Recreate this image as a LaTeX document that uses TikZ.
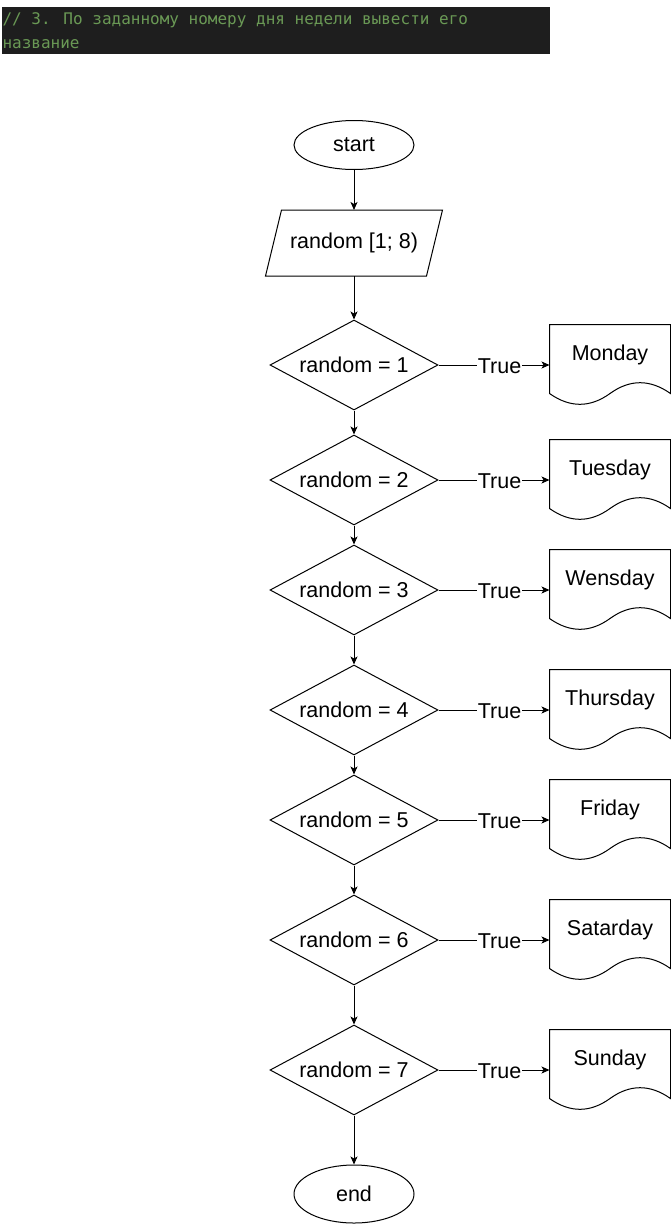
\documentclass[tikz,border=0pt]{standalone}
\usepackage{fontspec}
\setmainfont{Liberation Sans}
\newfontfamily\codefont{DejaVu Sans Mono}
\usetikzlibrary{shapes.geometric,arrows.meta}
\definecolor{codebg}{HTML}{1E1E1E}
\definecolor{codegreen}{HTML}{6A9955}

\begin{document}
\begin{tikzpicture}[x=1pt,y=-1pt,line width=1pt,
  txt/.style={font=\fontsize{21.5}{24}\selectfont},
  term/.style={txt,ellipse,draw,minimum width=120pt,inner sep=0pt},
  io/.style={txt,rectangle,minimum width=160pt,minimum height=65pt,inner sep=0pt},
  test/.style={txt,diamond,draw,aspect=1.87,minimum width=168pt,minimum height=90pt,inner sep=0pt},
  doc/.style={txt,rectangle,minimum width=120pt,minimum height=80pt,inner sep=0pt,
    text height=15pt,text depth=24pt},
  arr/.style={-{Stealth[length=8pt,width=7pt,inset=2pt]}},
  truelbl/.style={txt,fill=white,inner sep=1pt,pos=0.55,yshift=-1.5pt},
  code/.style={anchor=base west,inner sep=0pt,text=codegreen,font=\codefont\fontsize{16}{24}\selectfont}]
\useasboundingbox (0,0) rectangle (671,1226);

% code comment strip
\fill[codebg] (2,7) rectangle (550,54);
\node[code] (h1) at (2,24) {// 3. По заданному номеру дня недели вывести его};
\node[code] (h2) at (2,48) {название};

\node[term,minimum height=49pt] (start) at (354,145) {start};
\node[io] (input) at (354,243) {random [1; 8)};
\draw ([xshift=8pt]input.north west) -- ([xshift=8pt]input.north east)
  -- ([xshift=-8pt]input.south east) -- ([xshift=-8pt]input.south west) -- cycle;

\node[test] (c1) at (354,365) {random = 1};
\node[test] (c2) at (354,480) {random = 2};
\node[test] (c3) at (354,590) {random = 3};
\node[test] (c4) at (354,710) {random = 4};
\node[test] (c5) at (354,820) {random = 5};
\node[test] (c6) at (354,940) {random = 6};
\node[test] (c7) at (354,1070) {random = 7};

\node[term,minimum height=58pt] (stop) at (354,1194) {end};

\node[doc] (d1) at (610,365) {Monday};
\node[doc] (d2) at (610,480) {Tuesday};
\node[doc] (d3) at (610,590) {Wensday};
\node[doc] (d4) at (610,710) {Thursday};
\node[doc] (d5) at (610,820) {Friday};
\node[doc] (d6) at (610,940) {Satarday};
\node[doc] (d7) at (610,1070) {Sunday};

% wavy document outlines
\foreach \n in {1,...,7}
  \draw (d\n.north west) -- (d\n.north east) -- ([yshift=12pt]d\n.south east)
    .. controls ([xshift=40pt,yshift=26.4pt]d\n.south) and ([xshift=20pt,yshift=26.4pt]d\n.south) .. ([yshift=12pt]d\n.south)
    .. controls ([xshift=-20pt,yshift=-2.4pt]d\n.south) and ([xshift=-40pt,yshift=-2.4pt]d\n.south) .. ([yshift=12pt]d\n.south west) -- cycle;

\draw[arr] (start) -- (input);
\draw[arr] (input) -- (c1);
\draw[arr] (c1) -- (c2);
\draw[arr] (c2) -- (c3);
\draw[arr] (c3) -- (c4);
\draw[arr] (c4) -- (c5);
\draw[arr] (c5) -- (c6);
\draw[arr] (c6) -- (c7);
\draw[arr] (c7) -- (stop);

\foreach \n in {1,...,7}
  \draw[arr] (c\n) -- node[truelbl]{True} (d\n);

\end{tikzpicture}
\end{document}
